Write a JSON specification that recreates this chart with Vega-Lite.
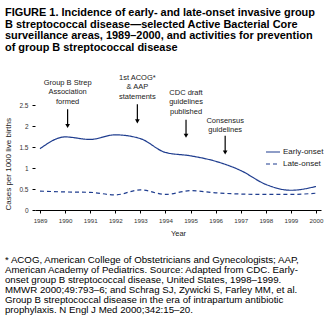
{
  "$schema": "https://vega.github.io/schema/vega-lite/v6.json",
  "padding": {"left": 4, "top": 6, "right": 4, "bottom": 4},
  "background": "white",
  "title": {
    "text": [
      "FIGURE 1. Incidence of early- and late-onset invasive group",
      "B streptococcal disease\u2014selected Active Bacterial Core",
      "surveillance areas, 1989\u20132000, and activities for prevention",
      "of group B streptococcal disease"
    ],
    "anchor": "start",
    "font": "Liberation Sans",
    "fontSize": 10.95,
    "fontWeight": "bold",
    "lineHeight": 11.7,
    "color": "black",
    "offset": 18
  },
  "config": {
    "view": {"stroke": null},
    "font": "Liberation Sans",
    "axis": {"labelOverlap": false}
  },
  "vconcat": [
    {
      "width": 286,
      "height": 139,
      "title": {
        "text": [
          "* ACOG, American College of Obstetricians and Gynecologists; AAP,",
          "\u00a0\u00a0American Academy of Pediatrics. Source: Adapted from CDC. Early-",
          "\u00a0\u00a0onset group B streptococcal disease, United States, 1998\u20131999.",
          "\u00a0\u00a0MMWR 2000;49:793\u20136; and Schrag SJ, Zywicki S, Farley MM, et al.",
          "\u00a0\u00a0Group B streptococcal disease in the era of intrapartum antibiotic",
          "\u00a0\u00a0prophylaxis. N Engl J Med 2000;342:15\u201320."
        ],
        "orient": "bottom",
        "anchor": "start",
        "font": "Liberation Sans",
        "fontSize": 9.7,
        "fontWeight": "normal",
        "lineHeight": 10,
        "color": "black",
        "offset": 18
      },
      "layer": [
        {
          "data": {"values": [
            {"year": 1989, "series": "Early-onset", "rate": 1.46},
            {"year": 1990, "series": "Early-onset", "rate": 1.74},
            {"year": 1991, "series": "Early-onset", "rate": 1.68},
            {"year": 1992, "series": "Early-onset", "rate": 1.79},
            {"year": 1993, "series": "Early-onset", "rate": 1.70},
            {"year": 1994, "series": "Early-onset", "rate": 1.37},
            {"year": 1995, "series": "Early-onset", "rate": 1.29},
            {"year": 1996, "series": "Early-onset", "rate": 1.16},
            {"year": 1997, "series": "Early-onset", "rate": 0.94},
            {"year": 1998, "series": "Early-onset", "rate": 0.61},
            {"year": 1999, "series": "Early-onset", "rate": 0.47},
            {"year": 2000, "series": "Early-onset", "rate": 0.56},
            {"year": 1989, "series": "Late-onset", "rate": 0.45},
            {"year": 1990, "series": "Late-onset", "rate": 0.43},
            {"year": 1991, "series": "Late-onset", "rate": 0.42},
            {"year": 1992, "series": "Late-onset", "rate": 0.36},
            {"year": 1993, "series": "Late-onset", "rate": 0.48},
            {"year": 1994, "series": "Late-onset", "rate": 0.37},
            {"year": 1995, "series": "Late-onset", "rate": 0.46},
            {"year": 1996, "series": "Late-onset", "rate": 0.41},
            {"year": 1997, "series": "Late-onset", "rate": 0.38},
            {"year": 1998, "series": "Late-onset", "rate": 0.37},
            {"year": 1999, "series": "Late-onset", "rate": 0.37},
            {"year": 2000, "series": "Late-onset", "rate": 0.40}
          ]},
          "mark": {"type": "line", "interpolate": "monotone", "strokeWidth": 1.2},
          "encoding": {
            "x": {
              "field": "year", "type": "quantitative",
              "scale": {"domain": [1988.8, 2000.2], "nice": false, "zero": false},
              "axis": {
                "values": [1989, 1990, 1991, 1992, 1993, 1994, 1995, 1996, 1997, 1998, 1999, 2000],
                "tickCount": 30,
                "format": "d", "grid": false, "title": "Year", "labelOverlap": false,
                "labelFontSize": 6.2, "labelColor": "#333", "labelPadding": 4,
                "tickSize": 3, "tickColor": "black", "domainColor": "black",
                "titleFontSize": 7.5, "titleFontWeight": "normal", "titleColor": "#222", "titlePadding": 6
              }
            },
            "y": {
              "field": "rate", "type": "quantitative",
              "scale": {"domain": [0, 3.31], "nice": false},
              "axis": {
                "values": [0, 0.5, 1, 1.5, 2, 2.5], "tickCount": 20, "format": "~g", "labelOverlap": false,
                "grid": false, "domain": false, "title": "Cases per 1000 live births",
                "labelFontSize": 6.5, "labelColor": "#333", "labelPadding": 4,
                "tickSize": 3, "tickColor": "black",
                "titleFontSize": 8, "titleFontWeight": "normal", "titleColor": "#222",
                "titleAnchor": "start", "titlePadding": 6
              }
            },
            "color": {
              "field": "series", "type": "nominal",
              "scale": {"domain": ["Early-onset", "Late-onset"], "range": ["#1f3d8f", "#1f3d8f"]},
              "legend": {
                "title": null, "orient": "none", "legendX": 230, "legendY": 73,
                "symbolType": "stroke", "symbolSize": 196, "symbolStrokeWidth": 1.2,
                "labelFontSize": 8, "labelColor": "#222", "rowPadding": -5, "labelOffset": 2, "padding": 0
              }
            },
            "strokeDash": {
              "field": "series", "type": "nominal",
              "scale": {"domain": ["Early-onset", "Late-onset"], "range": [[1, 0], [4, 3]]},
              "legend": {
                "title": null, "orient": "none", "legendX": 230, "legendY": 73,
                "symbolType": "stroke", "symbolSize": 196, "symbolStrokeWidth": 1.2,
                "labelFontSize": 8, "labelColor": "#222", "rowPadding": -5, "labelOffset": 2, "padding": 0
              }
            }
          }
        },
        {
          "mark": {"type": "rule", "color": "black", "strokeWidth": 1},
          "encoding": {
            "x": {"datum": 1988.8, "type": "quantitative"},
            "y": {"datum": 0, "type": "quantitative"},
            "y2": {"datum": 2.5}
          }
        },
        {
          "mark": {"type": "rule", "color": "black", "strokeWidth": 1},
          "encoding": {
            "x": {"datum": 2000.2, "type": "quantitative"},
            "y": {"datum": 0, "type": "quantitative"},
            "y2": {"datum": 2.5}
          }
        },
        {
          "data": {"values": [
            {"label": ["Group B Strep", "Association", "formed"], "year": 1990.1, "texty": 3.13, "top": 2.40, "tip": 2.0},
            {"label": ["1st ACOG*", "& AAP", "statements"], "year": 1992.88, "texty": 3.25, "top": 2.52, "tip": 2.11},
            {"label": ["CDC draft", "guidelines", "published"], "year": 1994.82, "texty": 2.89, "top": 2.15, "tip": 1.77},
            {"label": ["Consensus", "guidelines"], "year": 1996.38, "texty": 2.22, "top": 1.77, "tip": 1.37}
          ]},
          "layer": [
            {
              "mark": {"type": "text", "baseline": "top", "align": "center", "fontSize": 7.5, "lineHeight": 9.5, "color": "#222"},
              "encoding": {
                "x": {"field": "year", "type": "quantitative"},
                "y": {"field": "texty", "type": "quantitative"},
                "text": {"field": "label"}
              }
            },
            {
              "mark": {"type": "rule", "color": "black", "strokeWidth": 1.2},
              "encoding": {
                "x": {"field": "year", "type": "quantitative"},
                "y": {"field": "top", "type": "quantitative"},
                "y2": {"field": "tip"}
              }
            },
            {
              "mark": {"type": "point", "shape": "triangle-down", "filled": true, "color": "black", "size": 22, "opacity": 1},
              "encoding": {
                "x": {"field": "year", "type": "quantitative"},
                "y": {"field": "tip", "type": "quantitative"}
              }
            }
          ]
        }
      ]
    }
  ]
}
